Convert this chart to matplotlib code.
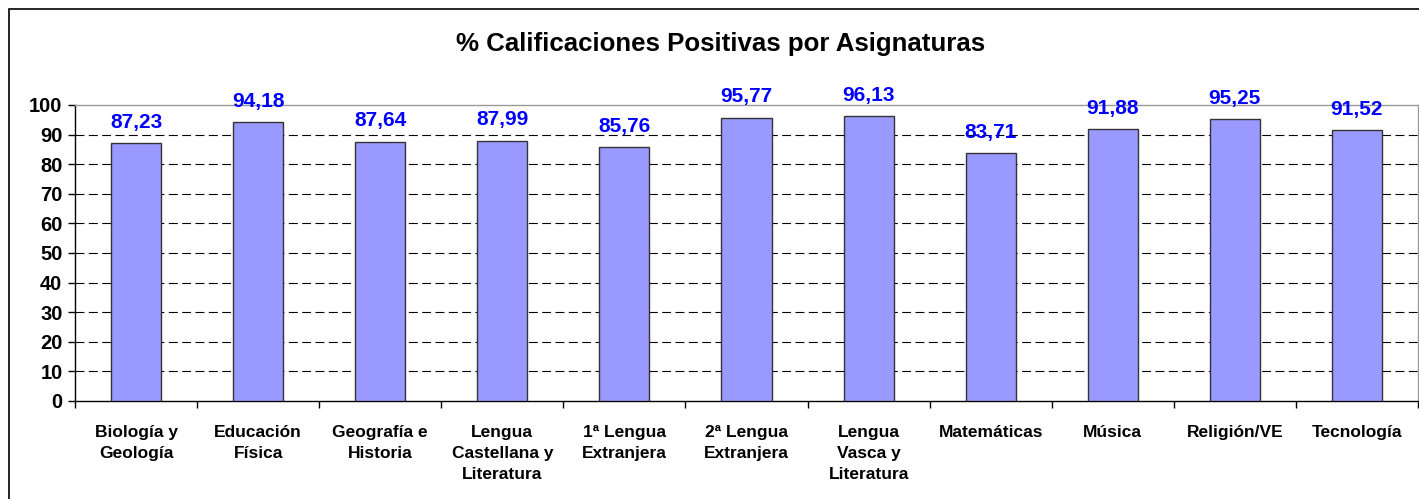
import matplotlib.pyplot as plt
from matplotlib.patches import Rectangle
import numpy as np

asignaturas = ["Biología y\nGeología", "Educación\nFísica", "Geografía e\nHistoria",
               "Lengua\nCastellana y\nLiteratura", "1ª Lengua\nExtranjera",
               "2ª Lengua\nExtranjera", "Lengua\nVasca y\nLiteratura", "Matemáticas",
               "Música", "Religión/VE", "Tecnología"]
positivas = [87.23, 94.18, 87.64, 87.99, 85.76, 95.77, 96.13, 83.71, 91.88, 95.25, 91.52]
yticks = list(range(0, 101, 10))

plt.rcParams['font.family'] = ['Liberation Sans', 'DejaVu Sans']
plt.rcParams['font.weight'] = 'bold'

W, H = 1419, 499
fig = plt.figure(figsize=(W / 100, H / 100), dpi=100)
ax = fig.add_axes([75 / W, 1 - 401 / H, (1418 - 75) / W, (401 - 105) / H])

x = np.arange(len(asignaturas))
ax.bar(x, positivas, width=0.41, color='#9999FF', edgecolor='#333333', linewidth=1.0, zorder=3)

for xi, v in zip(x, positivas):
    ax.text(xi, v + 3.8, f"{v:.2f}".replace('.', ','), ha='center', va='bottom',
            color='#0000FF', fontsize=15, fontweight='bold', clip_on=False)

ax.set_xlim(-0.5, len(asignaturas) - 0.5)
ax.set_ylim(0, 100)
ax.set_yticks(yticks)
ax.set_yticklabels([str(t) for t in yticks], fontsize=14.5, fontweight='bold')
for t in yticks[1:-1]:
    ax.axhline(t, color='black', linewidth=0.8, linestyle=(0, (8, 4)), zorder=1)

# category labels sit between boundary ticks
ax.set_xticks(x)
ax.set_xticklabels(asignaturas, fontsize=12.5, fontweight='bold', linespacing=1.5)
ax.tick_params(axis='x', length=0, pad=17)
ax.set_xticks(np.arange(-0.5, len(asignaturas), 1), minor=True)
ax.tick_params(axis='x', which='minor', length=5, direction='out', width=1)
ax.tick_params(axis='y', length=5, direction='out', width=1, pad=4)

ax.spines['left'].set_color('black')
ax.spines['bottom'].set_color('black')
ax.spines['top'].set_color('#999999')
ax.spines['right'].set_color('#999999')
for s in ax.spines.values():
    s.set_linewidth(1.0)

fig.text(721 / W, 1 - 44 / H, "% Calificaciones Positivas por Asignaturas",
         ha='center', va='center', fontsize=18.6, fontweight='bold')

fig.patches.append(Rectangle((8.5 / W, -0.1), 1.2, 1 - 9 / H + 0.1,
                             transform=fig.transFigure, fill=False,
                             edgecolor='black', linewidth=1.2))

fig.savefig("out.png", dpi=100)
